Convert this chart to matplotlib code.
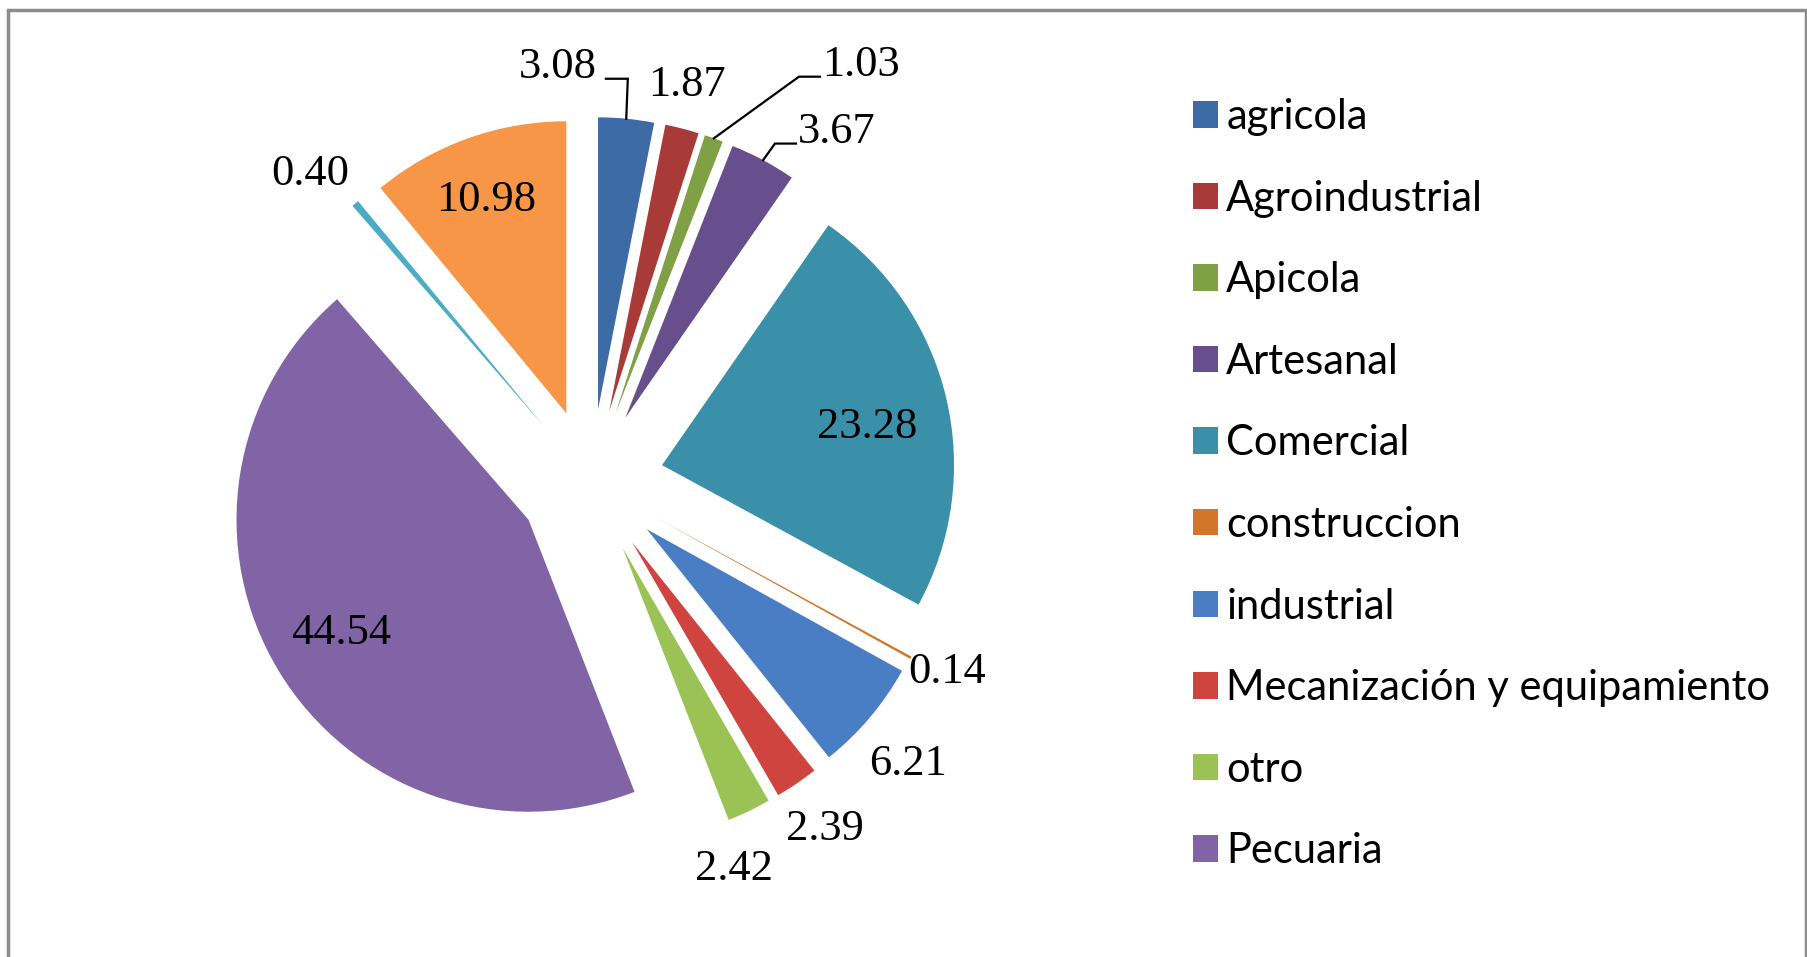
import numpy as np
import matplotlib
matplotlib.use("Agg")
import matplotlib.pyplot as plt
from matplotlib.patches import Rectangle

# Data (percent shares)
categories = ["agricola", "Agroindustrial", "Apicola", "Artesanal", "Comercial",
              "construccion", "industrial", "Mecanización y equipamiento", "otro",
              "Pecuaria", "Pesca", "Servicios"]
values = [3.08, 1.87, 1.03, 3.67, 23.28, 0.14, 6.21, 2.39, 2.42, 44.54, 0.40, 10.98]
value_labels = ["3.08", "1.87", "1.03", "3.67", "23.28", "0.14", "6.21", "2.39",
                "2.42", "44.54", "0.40", "10.98"]
# the original legend is cut off after the 10th entry
n_legend = 10

colors = ["#3D6BA6", "#A83B38", "#7FA045", "#674F8E", "#3A90A8", "#D2762A",
          "#4A7EC4", "#D0443F", "#9BC255", "#8064A6", "#4BACC6", "#F79646"]

# figure: 1808x957 px, pie radius 292 px, pie centre at (591, 482) px from top-left
W, H = 1808, 957
R_PX = 292
CX, CY = 591, 482

fig = plt.figure(figsize=(W / 100, H / 100), dpi=100)
ax = fig.add_axes([0, 0, 1, 1])

wedges, _ = ax.pie(values, colors=colors, startangle=90, counterclock=False,
                   explode=[0.25] * len(values), radius=1.0,
                   wedgeprops=dict(linewidth=0))

ax.set_xlim(-CX / R_PX, (W - CX) / R_PX)
ax.set_ylim(-(H - CY) / R_PX, CY / R_PX)
ax.set_aspect("equal")
ax.axis("off")

label_font = dict(family="Liberation Serif", size=32, color="black")

# labels moved away from their slice and joined with a leader line: (x, y, ha)
moved = {0: (0.021, 1.421, "right"), 2: (0.791, 1.428, "left"), 3: (0.709, 1.199, "left")}
# small pixel nudges, like Excel's label collision shifts (dx right, dy down)
nudge_px = {1: (-8, 5), 4: (-8, 12), 5: (-7, -10), 6: (0, 14), 7: (0, 4),
            8: (-36, 13), 10: (-13, 8), 11: (-6, -7)}

for i, w in enumerate(wedges):
    mid = np.deg2rad((w.theta1 + w.theta2) / 2)
    d = np.array([np.cos(mid), np.sin(mid)])
    c = np.array(w.center)
    if i in moved:
        tx, ty, ha = moved[i]
        ax.text(tx, ty, value_labels[i], ha=ha, va="center", **label_font)
        arc = c + d
        ly = ty - 0.04
        if ha == "right":
            x0 = tx + 0.03
            x1 = x0 + 0.075
        else:
            x0 = tx - 0.007
            x1 = x0 - 0.072
        ax.plot([x0, x1, arc[0]], [ly, ly, arc[1]], color="black", lw=1.6,
                solid_joinstyle="miter")
        continue
    if values[i] > 10:
        p = c + 0.75 * d
    else:
        p = c + 1.17 * d
    ndx, ndy = nudge_px.get(i, (0, 0))
    p = p + np.array([ndx, -ndy]) / R_PX
    ax.text(p[0], p[1], value_labels[i], ha="center", va="center", **label_font)

# legend on the right
leg = ax.legend(wedges[:n_legend], categories[:n_legend], loc="upper left",
                bbox_to_anchor=(1193 / W, 1 - 98 / H), bbox_transform=fig.transFigure,
                frameon=False, prop=dict(family="Lato", size=30),
                handlelength=0.6, handleheight=0.6, handletextpad=0.2,
                labelspacing=1.046, borderpad=0, borderaxespad=0)

# chart area border
fig.patches.append(Rectangle((8 / W, -0.05), (W - 10) / W, 1.05 - 10 / H,
                             transform=fig.transFigure, fill=False,
                             edgecolor="#8c8c8c", linewidth=2.5))

fig.savefig("out.png", dpi=100, facecolor="white")
